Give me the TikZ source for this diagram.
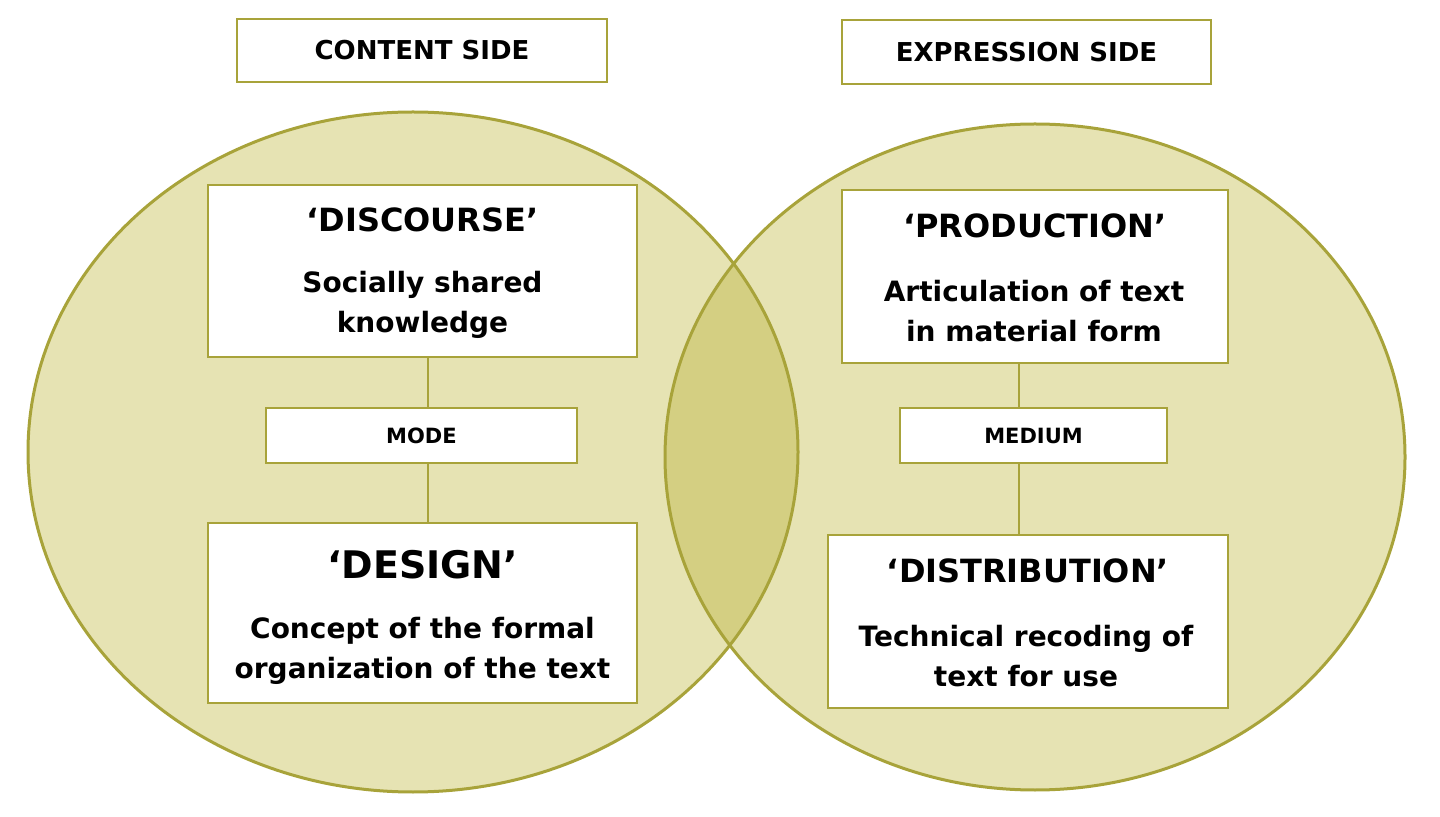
\documentclass[tikz,border=0pt]{standalone}
\usepackage{fontspec}
\setmainfont{DejaVu Sans}
\begin{document}
\begin{tikzpicture}[x=0.5pt,y=-0.5pt,
  bx/.style={draw=olive!80!black,line width=1.2pt,fill=white,inner sep=0pt,align=center,font=\bfseries},
  ln/.style={draw=olive!70!black,line width=0.8pt}]
\definecolor{cfill}{HTML}{E6E3B3}
\definecolor{cover}{HTML}{D4CF82}
\definecolor{cline}{HTML}{A8A33A}
\useasboundingbox (0,0) rectangle (1440,817);
\fill[cfill] (413,452) ellipse [x radius=385,y radius=340];
\fill[cfill] (1035,457) ellipse [x radius=370,y radius=333];
\begin{scope}
\clip (413,452) ellipse [x radius=385,y radius=340];
\fill[cover] (1035,457) ellipse [x radius=370,y radius=333];
\end{scope}
\draw[cline,line width=1.5pt] (413,452) ellipse [x radius=385,y radius=340];
\draw[cline,line width=1.5pt] (1035,457) ellipse [x radius=370,y radius=333];
\tikzset{bx/.append style={draw=cline}}
\node[bx,minimum width=185pt,minimum height=31.5pt,font=\bfseries\fontsize{13}{15}\selectfont] (cs) at (422,50.5) {CONTENT SIDE};
\node[bx,minimum width=184.5pt,minimum height=32pt,font=\bfseries\fontsize{13}{15}\selectfont] (es) at (1026.5,52) {EXPRESSION SIDE};
\node[bx,minimum width=214.5pt,minimum height=86pt] (disc) at (422.5,271) {};
\node[font=\bfseries\fontsize{16}{19}\selectfont] at (422.5,220) {‘DISCOURSE’};
\node[align=center,font=\bfseries\fontsize{14}{20}\selectfont] at (422.5,305) {Socially shared\\knowledge};
\node[bx,minimum width=155.5pt,minimum height=27.5pt,font=\bfseries\fontsize{10.5}{12}\selectfont] (mode) at (421.5,435.5) {MODE};
\node[bx,minimum width=214.5pt,minimum height=90pt] (des) at (422.5,613) {};
\node[font=\bfseries\fontsize{19}{22}\selectfont] at (422.5,565) {‘DESIGN’};
\node[align=center,font=\bfseries\fontsize{14}{20}\selectfont] at (422.5,651) {Concept of the formal\\organization of the text};
\draw[cline,line width=0.8pt] (disc.south -| 428,0) -- (mode.north -| 428,0);
\draw[cline,line width=0.8pt] (mode.south -| 428,0) -- (des.north -| 428,0);
\node[bx,minimum width=193pt,minimum height=86.5pt] (prod) at (1035,276.5) {};
\node[font=\bfseries\fontsize{16}{19}\selectfont] at (1035,226) {‘PRODUCTION’};
\node[align=center,font=\bfseries\fontsize{14}{20}\selectfont] at (1034,311) {Articulation of text\\in material form};
\node[bx,minimum width=133.5pt,minimum height=27.5pt,font=\bfseries\fontsize{10.5}{12}\selectfont] (med) at (1033.5,435.5) {MEDIUM};
\node[bx,minimum width=200pt,minimum height=86.5pt] (dist) at (1028,621.5) {};
\node[font=\bfseries\fontsize{16}{19}\selectfont] at (1028,571) {‘DISTRIBUTION’};
\node[align=center,font=\bfseries\fontsize{14}{20}\selectfont] at (1026,656) {Technical recoding of\\text for use};
\draw[cline,line width=0.8pt] (prod.south -| 1019,0) -- (med.north -| 1019,0);
\draw[cline,line width=0.8pt] (med.south -| 1019,0) -- (dist.north -| 1019,0);
\end{tikzpicture}
\end{document}
